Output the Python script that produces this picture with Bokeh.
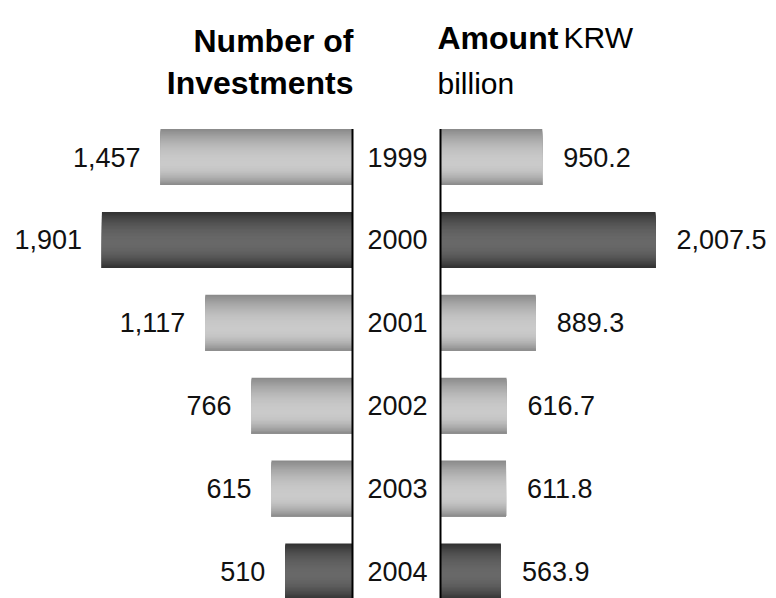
from bokeh.plotting import figure
from bokeh.models import Range1d, ColumnDataSource, Label
from bokeh.embed import file_html
from bokeh.resources import INLINE
from bokeh.core.properties import value

# ---- data ----
years = ["1999", "2000", "2001", "2002", "2003", "2004"]
investments = [1457, 1901, 1117, 766, 615, 510]
amounts = [950.2, 2007.5, 889.3, 616.7, 611.8, 563.9]
highlight = [False, True, False, False, False, True]

# ---- style ----
W, H = 776, 598
BAR_H = 0.676
N_STRIPS = 40
LIGHT = (136, 202, 0.62)   # edge, peak, peak position
DARK = (48, 104, 0.55)
FONT = "Liberation Sans"

p = figure(width=W, height=H, output_backend="svg", toolbar_location=None,
           x_range=Range1d(0, W), y_range=Range1d(5.326, -1.888),
           min_border=0, outline_line_color=None, border_fill_color="white",
           x_axis_location=None, y_axis_location=None)
p.grid.visible = False
p.extra_x_ranges = {"left": Range1d(2670.7, -3217.0),
                    "right": Range1d(-4108.3, 3137.3)}


def shade(t, prof):
    lo, hi, pk = prof
    d = (t - pk) / (pk if t < pk else (1 - pk))
    v = lo + (hi - lo) * (1 - d * d)
    v = int(round(max(0, min(255, v))))
    return "#%02x%02x%02x" % (v, v, v)


def strips(vals):
    ys, rights, hs, cols = [], [], [], []
    sh = BAR_H / N_STRIPS
    for i, (v, hl) in enumerate(zip(vals, highlight)):
        prof = DARK if hl else LIGHT
        top = i - BAR_H / 2
        bottom = i + BAR_H / 2
        for k in range(N_STRIPS):
            t = (k + 0.5) / N_STRIPS
            y0 = top + k * sh
            ys.append((y0 + bottom) / 2)
            hs.append(bottom - y0)
            rights.append(v)
            cols.append(shade(t, prof))
    return ColumnDataSource(dict(y=ys, right=rights, h=hs, c=cols))


idx = list(range(len(years)))

p.hbar(y="y", left=0, right="right", height="h", fill_color="c", line_color=None,
       source=strips(investments), x_range_name="left")
p.hbar(y="y", left=0, right="right", height="h", fill_color="c", line_color=None,
       source=strips(amounts), x_range_name="right")

# axis lines
p.segment(x0=[0], x1=[0], y0=[-BAR_H / 2], y1=[6.5], line_color="black", line_width=2,
          x_range_name="left")
p.segment(x0=[0], x1=[0], y0=[-BAR_H / 2], y1=[6.5], line_color="black", line_width=2,
          x_range_name="right")

# value labels
p.text(x=investments, y=idx, text=[f"{v:,}" for v in investments],
       x_range_name="left", x_offset=-20, text_align="right", text_baseline="middle",
       text_font=value(FONT), text_font_size="27px", text_color="#111111")
p.text(x=amounts, y=idx, text=[f"{v:,.1f}" for v in amounts],
       x_range_name="right", x_offset=21, text_align="left", text_baseline="middle",
       text_font=value(FONT), text_font_size="27px", text_color="#111111")

# year labels
p.text(x=[397] * len(years), y=idx, text=years, text_align="center",
       text_baseline="middle", text_font=value(FONT), text_font_size="27px",
       text_color="#111111")

# titles
def lab(txt, x, y, align, bold, size):
    p.add_layout(Label(x=x, y=H - y, x_units="screen", y_units="screen", text=txt,
                       text_align=align, text_baseline="alphabetic",
                       text_font=FONT, text_font_size=size,
                       text_font_style="bold" if bold else "normal",
                       text_color="black"))

lab("Number of", 353, 40, "right", True, "32px")
lab("Investments", 353, 82, "right", True, "32px")
lab("Amount", 437, 37, "left", True, "32px")
lab("KRW", 563, 37, "left", False, "30px")
lab("billion", 437, 83, "left", False, "30px")

open("out.html", "w").write(file_html(p, INLINE))
